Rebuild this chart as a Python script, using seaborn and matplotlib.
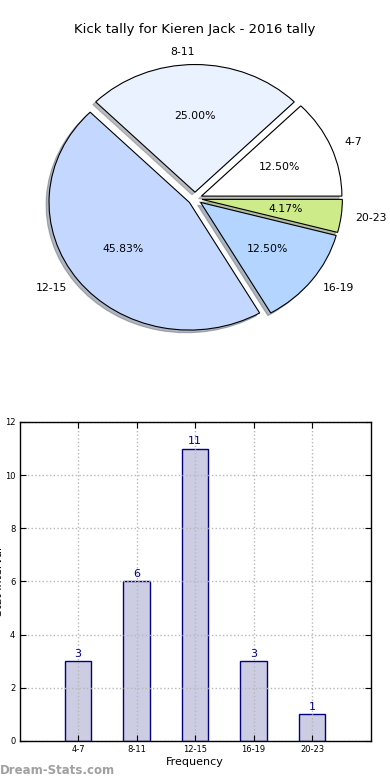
import matplotlib
matplotlib.use("Agg")
import matplotlib.pyplot as plt
import seaborn as sns
import pandas as pd

# Kick tally data
intervals = ['4-7', '8-11', '12-15', '16-19', '20-23']
counts = [3, 6, 11, 3, 1]
pie_colors = ['#ffffff', '#eaf1ff', '#c4d8ff', '#b3d5ff', '#ceeb8a']

sns.set_style("white")
plt.rcParams['font.family'] = ['DejaVu Sans']
plt.rcParams['text.color'] = 'black'
plt.rcParams['axes.labelcolor'] = 'black'
plt.rcParams['xtick.color'] = 'black'
plt.rcParams['ytick.color'] = 'black'

fig, (ax1, ax2) = plt.subplots(2, 1, figsize=(3.9, 7.8), dpi=100)
fig.subplots_adjust(left=0.05, right=0.95, top=0.95, bottom=0.05, hspace=0.2)

# 1. Pie chart
wedges, texts, autotexts = ax1.pie(counts, labels=intervals, colors=pie_colors,
                                   explode=[0.05] * len(counts),
                                   shadow={'ox': -0.015, 'oy': -0.015, 'shade': 0.5},
                                   autopct='%1.2f%%', startangle=0,
                                   wedgeprops={'edgecolor': 'black', 'linewidth': 0.8},
                                   textprops={'fontsize': 7.8, 'color': 'black'})
ax1.set_aspect('auto')
ax1.set_xlim(-1.25, 1.25)
ax1.set_ylim(-1.25, 1.25)
ax1.set_title('Kick tally for Kieren Jack - 2016 tally', fontsize=9.5, pad=4, color='black')

# 2. Bar chart
df = pd.DataFrame({'Interval': intervals, 'Count': counts})
sns.barplot(data=df, x='Interval', y='Count', ax=ax2, width=0.45,
            color='#ccccE3', edgecolor='navy', linewidth=1, saturation=1)
for i, c in enumerate(counts):
    ax2.text(i, c + 0.1, str(c), ha='center', va='bottom', color='navy', fontsize=8)
ax2.set_xlim(-1, 5)
ax2.set_ylim(0, 12)
ax2.set_yticks(range(0, 13, 2))
ax2.grid(True, linestyle=':', color='#b8b8b8', linewidth=1)
ax2.set_axisbelow(False)
for s in ax2.spines.values():
    s.set_color('black')
    s.set_linewidth(1)
    s.set_zorder(5)
ax2.tick_params(direction='in', length=4, labelsize=6, top=True, right=True,
                bottom=True, left=True, pad=3)
ax2.set_xlabel('Frequency', fontsize=8, labelpad=2)
ax2.set_ylabel('Stat Interval', fontsize=8)
ax2.yaxis.set_label_coords(-0.045, 0.5)

fig.text(0.0, 0.004, 'Dream-Stats.com', color='#a0a0a0', fontsize=8.5,
         fontweight='bold', ha='left', va='bottom')

plt.savefig('out.png', dpi=100)
plt.close()
